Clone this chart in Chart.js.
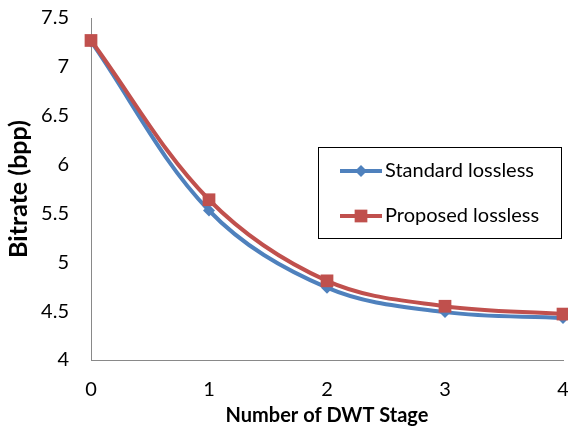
<!DOCTYPE html>
<html>
<head>
<meta charset="utf-8">
<script src="https://cdn.jsdelivr.net/npm/chart.js@4"></script>
<style>
  html, body { margin: 0; padding: 0; background: #fff; }
  #wrap { width: 568px; height: 432px; }
</style>
</head>
<body>
<div id="wrap"><canvas id="chart" width="568" height="432"></canvas></div>
<script>
// Chart data
const stages = ["0", "1", "2", "3", "4"]
const standardLossless = [7.26, 5.53, 4.74, 4.49, 4.43]
const proposedLossless = [7.27, 5.64, 4.81, 4.55, 4.47]
const seriesNames = ["Standard lossless", "Proposed lossless"]

const FONT = "Lato, 'Open Sans', sans-serif"

// legend drawn inside the plot with a black box, like the excel original
const boxLegend = {
  id: "boxLegend",
  afterDraw(chart, args, opts) {
    const ctx = chart.ctx
    ctx.save()
    ctx.strokeStyle = "#000"
    ctx.lineWidth = 1
    ctx.strokeRect(opts.x + 0.5, opts.y + 0.5, opts.w, opts.h)

    chart.data.datasets.forEach((ds, i) => {
      const cy = opts.y + opts.rows[i]
      const x0 = opts.x + 22
      const x1 = opts.x + 64
      ctx.strokeStyle = ds.borderColor
      ctx.lineWidth = ds.borderWidth
      ctx.beginPath()
      ctx.moveTo(x0, cy)
      ctx.lineTo(x1, cy)
      ctx.stroke()

      const cx = (x0 + x1) / 2
      const r = ds.pointRadius
      ctx.fillStyle = ds.pointBackgroundColor
      ctx.beginPath()
      if (ds.pointStyle === "rect") {
        const s = r * Math.SQRT1_2
        ctx.rect(cx - s, cy - s, 2 * s, 2 * s)
      } else {
        ctx.moveTo(cx, cy - r)
        ctx.lineTo(cx + r, cy)
        ctx.lineTo(cx, cy + r)
        ctx.lineTo(cx - r, cy)
        ctx.closePath()
      }
      ctx.fill()

      ctx.fillStyle = "#000"
      ctx.font = "20px " + FONT
      ctx.textBaseline = "middle"
      ctx.textAlign = "left"
      ctx.fillText(ds.label, x1 + 3, cy)
    })
    ctx.restore()
  }
}

new Chart(document.getElementById("chart"), {
  type: "line",
  data: {
    labels: stages,
    datasets: [
      {
        label: seriesNames[0],
        data: standardLossless,
        borderColor: "#4F81BD",
        backgroundColor: "#4F81BD",
        pointBackgroundColor: "#4F81BD",
        pointBorderWidth: 0,
        pointStyle: "rectRot",
        pointRadius: 6,
        borderWidth: 4,
        tension: 0.35,
        clip: false,
        order: 1
      },
      {
        label: seriesNames[1],
        data: proposedLossless,
        borderColor: "#C0504D",
        backgroundColor: "#C0504D",
        pointBackgroundColor: "#C0504D",
        pointBorderWidth: 0,
        pointStyle: "rect",
        pointRadius: 9,
        borderWidth: 4,
        tension: 0.35,
        clip: false,
        order: 0
      }
    ]
  },
  options: {
    responsive: false,
    animation: false,
    layout: { autoPadding: false, padding: { top: 18, right: 5, left: 0, bottom: 0 } },
    plugins: {
      legend: { display: false },
      tooltip: { enabled: false },
      boxLegend: { x: 318, y: 147, w: 243, h: 91, rows: [24, 69] }
    },
    scales: {
      x: {
        offset: false,
        grid: { display: false, drawTicks: false },
        border: { display: true, color: "#898989", width: 1 },
        ticks: { color: "#000", font: { family: FONT, size: 20 }, padding: 18, maxRotation: 0 },
        title: {
          display: true,
          text: "Number of DWT Stage",
          color: "#000",
          font: { family: FONT, size: 20, weight: "bold" },
          padding: { top: 0, bottom: 4 }
        },
        afterFit: (scale) => {
          scale.height = 72
          scale.paddingLeft = 0
          scale.paddingRight = 0
        }
      },
      y: {
        min: 4,
        max: 7.5,
        grid: { display: false, drawTicks: false },
        border: { display: true, color: "#898989", width: 1 },
        ticks: {
          stepSize: 0.5,
          color: "#000",
          font: { family: FONT, size: 20 },
          padding: 22,
          callback: (v) => String(v)
        },
        title: {
          display: true,
          text: "Bitrate (bpp)",
          color: "#000",
          font: { family: FONT, size: 25, weight: "bold" },
          padding: { top: 4, bottom: 0 }
        },
        afterFit: (scale) => {
          scale.width = 91
          scale.paddingTop = 0
          scale.paddingBottom = 0
        }
      }
    }
  },
  plugins: [boxLegend]
})
</script>
</body>
</html>
